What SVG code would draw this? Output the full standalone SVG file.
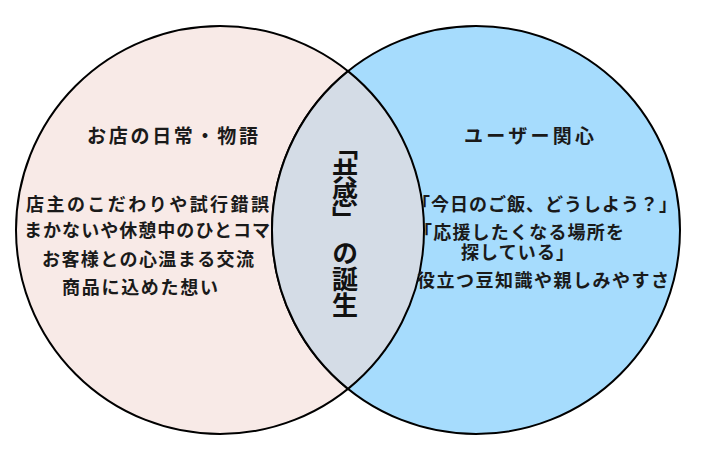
<svg xmlns="http://www.w3.org/2000/svg" width="717" height="452" viewBox="0 0 717 452">
  <style>
    .set { stroke: #000; stroke-width: 2; }
    .title { font-family: "Noto Sans CJK JP", "Noto Sans", sans-serif; font-size: 19px; font-weight: 700; fill: #1a1a1a; }
    .item { font-family: "Noto Sans CJK JP", "Noto Sans", sans-serif; font-size: 18px; font-weight: 700; fill: #1a1a1a; }
    .core { font-family: "Noto Sans CJK JP", "Noto Sans", sans-serif; font-size: 26px; font-weight: 700; fill: #111; writing-mode: vertical-rl; }
  </style>
  <rect width="717" height="452" fill="#fff"/>
  <g id="node-left">
    <circle class="set" cx="220" cy="230" r="204" fill="#F8EAE7"/>
    <text class="title" x="87" y="143" textLength="171" lengthAdjust="spacing">お店の日常・物語</text>
    <text class="item" x="26" y="211" textLength="243" lengthAdjust="spacing">店主のこだわりや試行錯誤</text>
    <text class="item" x="24" y="237" textLength="246" lengthAdjust="spacing">まかないや休憩中のひとコマ</text>
    <text class="item" x="42" y="266" textLength="212" lengthAdjust="spacing">お客様との心温まる交流</text>
    <text class="item" x="62" y="294" textLength="156" lengthAdjust="spacing">商品に込めた想い</text>
  </g>
  <g id="node-right">
    <circle class="set" cx="476" cy="230" r="204" fill="#A6DCFD"/>
  </g>
  <g id="node-overlap">
    <path class="set" d="M348,71.15 A204,204 0 0,1 348,388.85 A204,204 0 0,1 348,71.15 Z" fill="#D4DCE6"/>
    <text class="core" x="345">
      <tspan y="134">「</tspan><tspan y="158">共</tspan><tspan y="182">感</tspan><tspan y="206">」</tspan><tspan y="240">の</tspan><tspan y="266">誕</tspan><tspan y="292">生</tspan>
    </text>
  </g>
  <g id="node-right-labels">
    <text class="title" x="464" y="143" textLength="130" lengthAdjust="spacing">ユーザー関心</text>
    <text class="item" x="412" y="211" textLength="265" lengthAdjust="spacing">「今日のご飯、どうしよう？」</text>
    <text class="item" x="414" y="239" textLength="210" lengthAdjust="spacing">「応援したくなる場所を</text>
    <text class="item" x="461" y="259" textLength="113" lengthAdjust="spacing">探している」</text>
    <text class="item" x="417" y="287" textLength="252" lengthAdjust="spacing">役立つ豆知識や親しみやすさ</text>
  </g>
  <g id="connectors"/>
</svg>
